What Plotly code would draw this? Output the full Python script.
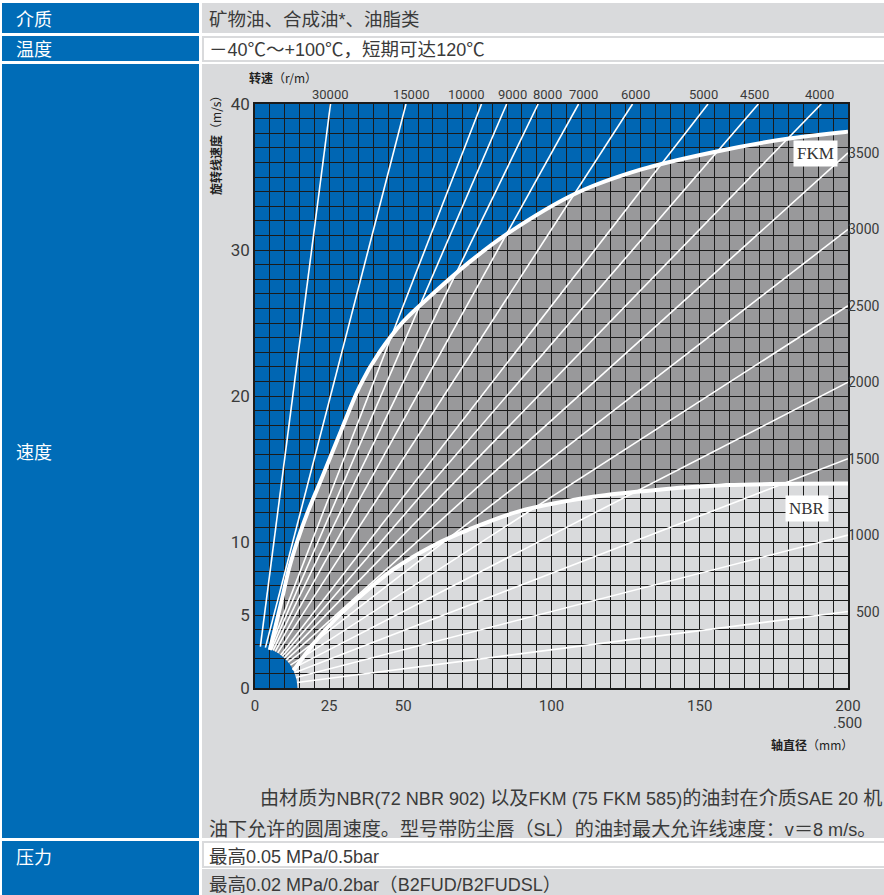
import math
import re
import plotly.graph_objects as go

# ---- data ----
rpm_top = [30000, 15000, 10000, 9000, 8000, 7000, 6000, 5000, 4500, 4000]
rpm_right = [3500, 3000, 2500, 2000, 1500, 1000, 500]

fkm_d = [5, 7, 9, 11.5, 14.5, 17.5, 23, 29, 35.4, 42, 50, 60, 72.5, 85, 108.5, 130, 154.5, 179, 200]
fkm_v = [2.6, 4.3, 6.0, 8.2, 10.2, 11.9, 14.6, 17.6, 20.7, 23.0, 25.1, 27.0, 29.2, 31.1, 33.9, 35.5, 36.7, 37.6, 38.1]

nbr_d = [13, 20, 27, 35, 46.5, 60, 71.5, 89, 114, 137, 159, 200]
nbr_v = [1.2, 3.1, 4.7, 6.2, 8.1, 9.75, 10.8, 12.1, 13.1, 13.6, 13.9, 14.0]

x_ticks = [0, 25, 50, 100, 150, 200]
y_ticks = [0, 5, 10, 20, 30, 40]

row_labels = ["介质", "温度", "速度", "压力"]
row_texts = ["矿物油、合成油*、油脂类", "－40℃～+100℃，短期可达120℃"]
note_lines = ["由材质为NBR(72 NBR 902) 以及FKM (75 FKM 585)的油封在介质SAE 20 机",
              "油下允许的圆周速度。型号带防尘唇（SL）的油封最大允许线速度：v＝8 m/s。"]
pressure_texts = ["最高0.05 MPa/0.5bar", "最高0.02 MPa/0.2bar（B2FUD/B2FUDSL）"]

# ---- styling ----
BLUE = "#0066b3"
COL_BLUE = "#006cb7"
DARK = "#99999b"
LIGHT = "#d9dadc"
GRID = "#1b1b1b"
TXT = "#3a3a3a"
CJK = "Noto Sans CJK SC"
NUM = "Roboto"

W, H = 884, 895
PX0, PX1, PY0, PY1 = 255, 848, 104, 688   # plot area in pixels
HUB_D, HUB_V = 14.3, 2.85                  # blue hub near origin
# small nudges of the top rpm labels, in pixels
top_dx = {15000: 5, 10000: -15, 9000: 6, 8000: 9, 7000: 5, 6000: 3, 5000: -5, 4500: -4, 4000: -2}


def px(x):
    return (x - PX0) / (PX1 - PX0)


def py(y):
    return (PY1 - y) / (PY1 - PY0)


def rect(x0, y0, x1, y1, fill, line=None):
    return dict(type="rect", xref="paper", yref="paper", layer="below",
                x0=px(x0), x1=px(x1), y0=py(y1), y1=py(y0),
                fillcolor=fill, line=dict(width=2 if line else 0, color=line or fill))


def poly(xs, ys):
    return "M " + " L ".join(f"{a},{b}" for a, b in zip(xs, ys)) + " Z"


def mixed(text, latin_size):
    # latin runs in a wider sans, cjk stays in the annotation font
    return re.sub(r"([\x20-\x7e]+)",
                  lambda m: f'<span style="font-family:Liberation Sans;font-size:{latin_size}px">{m.group(1)}</span>',
                  text)


def label(x, y, text, size, color=TXT, family=CJK, xanchor="left", **kw):
    return dict(x=px(x), y=py(y), xref="paper", yref="paper", text=text, showarrow=False,
                xanchor=xanchor, yanchor="middle", font=dict(family=family, size=size, color=color), **kw)


fig = go.Figure()

# table background
shapes = [
    rect(2, 3, 199, 33, COL_BLUE), rect(2, 36, 199, 61, COL_BLUE),
    rect(2, 64, 199, 838, COL_BLUE), rect(2, 841, 199, 897, COL_BLUE),
    rect(202, 3, 886, 33, LIGHT), rect(203, 37, 886, 61, "white", LIGHT),
    rect(202, 64, 886, 838, LIGHT), rect(203, 842, 886, 867, "white", LIGHT),
    rect(202, 869, 886, 897, LIGHT),
]

# chart regions (drawn below the grid)
shapes.append(dict(type="rect", xref="x", yref="y", layer="below", line_width=0, fillcolor=BLUE,
                   x0=0, x1=200, y0=0, y1=40))
shapes.append(dict(type="path", xref="x", yref="y", layer="below", line_width=0, fillcolor=DARK,
                   path=poly(fkm_d + [200, 0], fkm_v + [0, 0])))
shapes.append(dict(type="path", xref="x", yref="y", layer="below", line_width=0, fillcolor=LIGHT,
                   path=poly(nbr_d + [200, 0], nbr_v + [0, 0])))
shapes.append(dict(type="circle", xref="x", yref="y", layer="below", line_width=0, fillcolor=BLUE,
                   x0=-HUB_D, x1=HUB_D, y0=-HUB_V, y1=HUB_V))

# rpm lines: v = pi * d * n / 60000, starting at the hub edge
lx, ly = [], []
for n in rpm_top + rpm_right:
    k = math.pi * n / 60000
    d0 = 1 / math.sqrt(1 / HUB_D ** 2 + k ** 2 / HUB_V ** 2)
    d1 = min(200, 40 / k)
    lx += [d0, d1, None]
    ly += [k * d0, k * d1, None]
fig.add_trace(go.Scatter(x=lx, y=ly, mode="lines", line=dict(color="white", width=1.6),
                         hoverinfo="skip"))

fig.add_trace(go.Scatter(x=fkm_d, y=fkm_v, mode="lines", line=dict(color="white", width=4, shape="spline"),
                         hoverinfo="skip"))
fig.add_trace(go.Scatter(x=nbr_d, y=nbr_v, mode="lines", line=dict(color="white", width=4, shape="spline"),
                         hoverinfo="skip"))

ann = []
for n in rpm_top:
    k = math.pi * n / 60000
    ann.append(dict(x=40 / k, y=40, xref="x", yref="y", text=str(n), showarrow=False,
                    yshift=10, xshift=top_dx.get(n, 0), yanchor="middle",
                    font=dict(family=NUM, size=13, color=TXT)))
for n in rpm_right:
    k = math.pi * n / 60000
    ann.append(dict(x=px(882), y=k * 200, xref="paper", yref="y", text=str(n), showarrow=False,
                    xanchor="right", yanchor="middle", font=dict(family=NUM, size=14, color=TXT)))

ann += [
    dict(x=189, y=36.6, xref="x", yref="y", text="FKM", showarrow=False, bgcolor="white",
         borderpad=3, font=dict(family="Liberation Serif", size=17, color="#333")),
    dict(x=186.3, y=12.3, xref="x", yref="y", text="NBR", showarrow=False, bgcolor="white",
         borderpad=3, font=dict(family="Liberation Serif", size=17, color="#333")),
    label(247, 78, "<b>转速</b>（r/m）", 12, color="#222"),
    label(215, 143, "<b>旋转线速度</b>（m/s）", 12, color="#222", xanchor="center", textangle=-90),
    label(855, 745, "<b>轴直径</b>（mm）", 12, color="#222", xanchor="right"),
    label(864, 723, ".500", 15, family=NUM, xanchor="right"),
]

# table texts
for lab, yc in zip(row_labels, [18, 48, 451, 856]):
    ann.append(label(14, yc, lab, 18, color="white"))
for t, yc in zip(row_texts, [18, 48]):
    ann.append(label(207, yc, mixed(t, 18), 18.5))
for t, xl, yc in zip(note_lines, [258, 207], [797, 828]):
    ann.append(label(xl, yc, mixed(t, 18.1), 19.1))
for t, yc in zip(pressure_texts, [855, 883]):
    ann.append(label(207, yc, mixed(t, 18), 18.5))

fig.update_layout(
    width=W, height=H,
    margin=dict(l=PX0, r=W - PX1, t=PY0, b=H - PY1),
    paper_bgcolor="white", plot_bgcolor=BLUE,
    showlegend=False,
    shapes=shapes, annotations=ann,
    xaxis=dict(range=[0, 200], tickvals=x_ticks, showgrid=True, gridcolor=GRID, gridwidth=1,
               minor=dict(dtick=5, tick0=0, showgrid=True, gridcolor=GRID, gridwidth=1),
               showline=True, linecolor=GRID, linewidth=1.5, mirror=True, zeroline=False,
               ticks="", ticklabelstandoff=3,
               tickfont=dict(family=NUM, size=15, color=TXT), fixedrange=True),
    yaxis=dict(range=[0, 40], tickvals=y_ticks, showgrid=True, gridcolor=GRID, gridwidth=1,
               minor=dict(dtick=1, tick0=0, showgrid=True, gridcolor=GRID, gridwidth=1),
               showline=True, linecolor=GRID, linewidth=1.5, mirror=True, zeroline=False,
               ticks="", tickfont=dict(family=NUM, size=17, color=TXT), fixedrange=True),
)

fig.write_html("out.html", config={"displayModeBar": False},
               post_script="document.body.style.margin='0px';")
